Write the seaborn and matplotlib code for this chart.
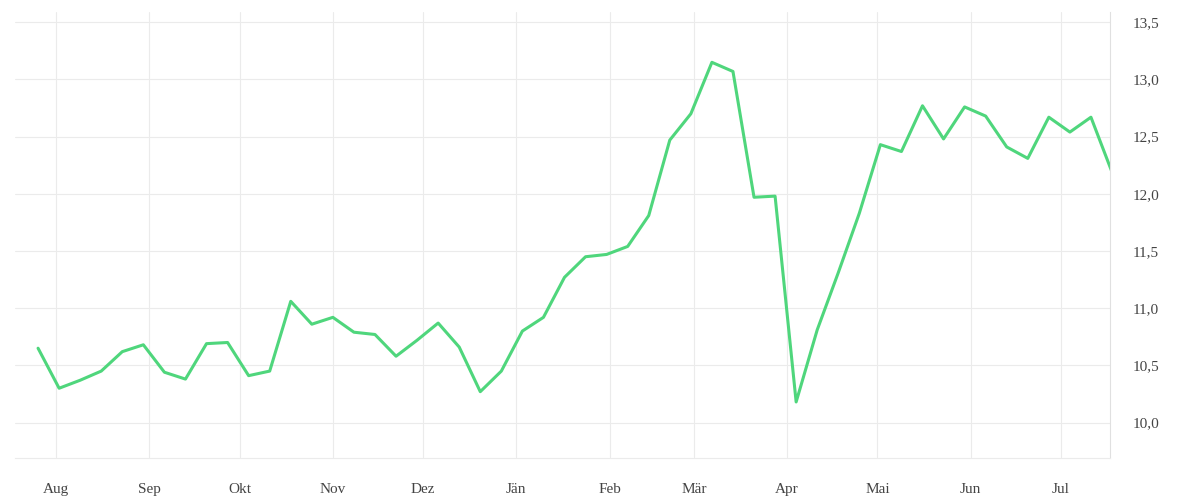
import numpy as np
import pandas as pd
import matplotlib
matplotlib.use("Agg")
import matplotlib.pyplot as plt
import matplotlib.dates as mdates
from matplotlib.ticker import FuncFormatter
import seaborn as sns

start_date = "2020-07-26"
values = [10.65, 10.30, 10.37, 10.45, 10.62, 10.68, 10.44, 10.38, 10.69, 10.70,
          10.41, 10.45, 11.06, 10.86, 10.92, 10.79, 10.77, 10.58, 10.72, 10.87,
          10.66, 10.27, 10.45, 10.80, 10.92, 11.27, 11.45, 11.47, 11.54, 11.81,
          12.47, 12.70, 13.15, 13.07, 11.97, 11.98, 10.18, 10.81, 11.31, 11.83,
          12.43, 12.37, 12.77, 12.48, 12.76, 12.68, 12.41, 12.31, 12.67, 12.54,
          12.67, 12.19]
month_labels = ["Aug", "Sep", "Okt", "Nov", "Dez", "Jän", "Feb", "Mär", "Apr",
                "Mai", "Jun", "Jul"]
y_ticks = [10.0, 10.5, 11.0, 11.5, 12.0, 12.5, 13.0, 13.5]

df = pd.DataFrame({"date": pd.date_range(start_date, periods=len(values), freq="7D"),
                   "value": values})

sns.set_style("white")
plt.rcParams['font.family'] = ['Liberation Serif', 'DejaVu Serif']

fig = plt.figure(figsize=(12, 5), dpi=100)
ax = fig.add_axes([0.0125, 0.084, 0.9125, 0.892])
sns.lineplot(data=df, x="date", y="value", color="#4fd67c", linewidth=2.2, ax=ax)

month_starts = pd.date_range("2020-08-01", periods=12, freq="MS")
ax.set_xticks(month_starts)
ax.set_xticklabels(month_labels)
ax.set_xlim(pd.Timestamp("2020-07-18 08:00"), pd.Timestamp("2021-07-17 08:00"))
ax.set_ylim(9.69, 13.59)
ax.set_yticks(y_ticks)
ax.yaxis.tick_right()
ax.yaxis.set_major_formatter(FuncFormatter(lambda v, p: f"{v:.1f}".replace(".", ",")))
ax.grid(True, color="#ebebeb", linewidth=0.8)
ax.tick_params(length=0, labelsize=11, colors="#444444")
ax.tick_params(axis="x", pad=18)
ax.tick_params(axis="y", pad=16)
for s in ["top", "left"]:
    ax.spines[s].set_visible(False)
ax.spines["bottom"].set_color("#ebebeb")
ax.spines["right"].set_color("#e0e0e0")
ax.set_xlabel("")
ax.set_ylabel("")

fig.savefig("out.png", dpi=100)
